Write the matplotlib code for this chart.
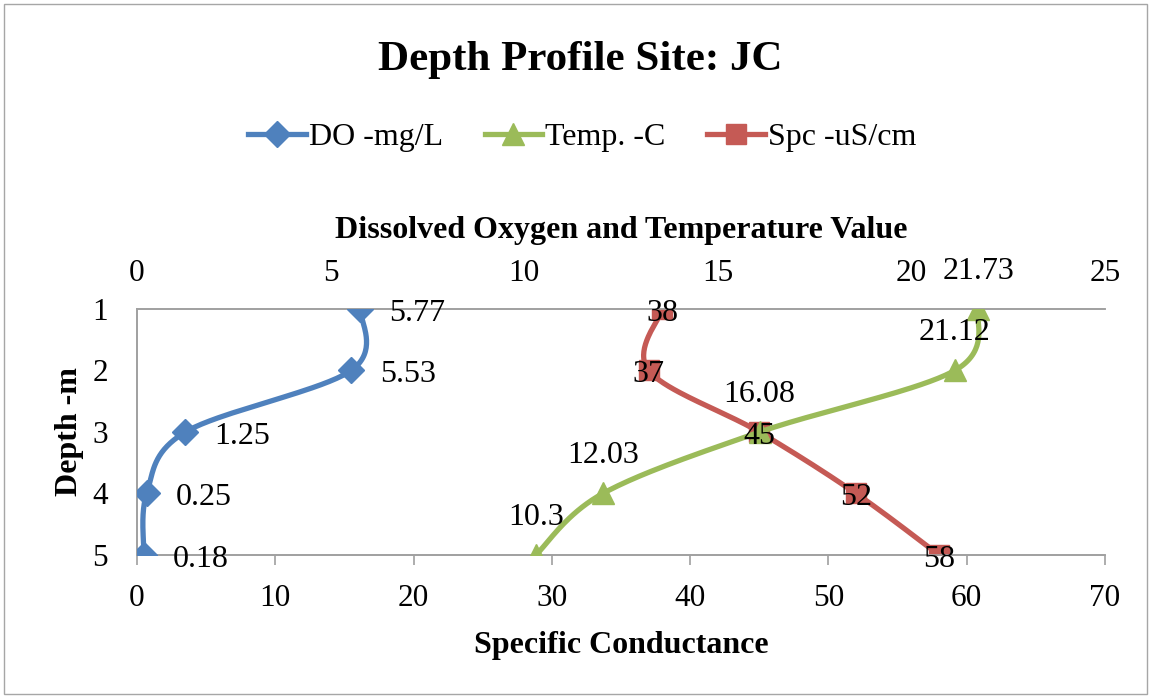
"""Depth profile for site JC: DO, temperature and specific conductance vs depth."""
import matplotlib

matplotlib.use("Agg")
import matplotlib.pyplot as plt
import numpy as np
from matplotlib.patches import Rectangle

plt.rcParams["font.family"] = ["Liberation Serif", "DejaVu Serif"]

depth = [1, 2, 3, 4, 5]
do_mg_l = [5.77, 5.53, 1.25, 0.25, 0.18]
temp_c = [21.73, 21.12, 16.08, 12.03, 10.3]
spc_us_cm = [38, 37, 45, 52, 58]

top_ticks = [0, 5, 10, 15, 20, 25]
bottom_ticks = [0, 10, 20, 30, 40, 50, 60, 70]

BLUE, GREEN, RED = "#4F81BD", "#9BBB59", "#C55A55"
AX_GRAY = "#A0A0A0"
TICK_FS, LABEL_FS, DATA_FS, LEG_FS = 22.5, 23, 23, 23
LW = 3.8


def _smooth(xs, ys, xlim, ylim, w, h, n=40):
    """Excel-style smoothed line: cubic Bezier with Catmull-Rom controls in pixel space."""
    p = np.column_stack([(np.asarray(xs) - xlim[0]) / (xlim[1] - xlim[0]) * w,
                         (np.asarray(ys) - ylim[0]) / (ylim[1] - ylim[0]) * h])
    ext = np.vstack([p[0], p, p[-1]])
    t = np.linspace(0, 1, n)[:, None]
    out = []
    for i in range(1, len(ext) - 2):
        p0, p1, p2, p3 = ext[i - 1], ext[i], ext[i + 1], ext[i + 2]
        c1 = p1 + (p2 - p0) / 6
        c2 = p2 - (p3 - p1) / 6
        seg = ((1 - t) ** 3) * p1 + 3 * ((1 - t) ** 2) * t * c1 + 3 * (1 - t) * t ** 2 * c2 + t ** 3 * p2
        out.append(seg)
    pts = np.vstack(out)
    return (pts[:, 0] / w * (xlim[1] - xlim[0]) + xlim[0],
            pts[:, 1] / h * (ylim[1] - ylim[0]) + ylim[0])


fig = plt.figure(figsize=(11.51, 6.98), dpi=100)
ax = fig.add_axes([137 / 1151, 1 - 555 / 698, 968 / 1151, 246 / 698])
ax_top = ax.twiny()
W, H = 968, 246

ax.set_xlim(0, 70)
ax.set_ylim(5, 1)
ax_top.set_xlim(0, 25)

# specific conductance on the bottom axis
sx, sy = _smooth(spc_us_cm, depth, (0, 70), (5, 1), W, H)
ax.plot(sx, sy, color=RED, lw=LW, solid_capstyle="round", zorder=3)
ax.plot(spc_us_cm, depth, ls="none", marker="s", ms=14, color=RED, zorder=4)

# DO and temperature on the top axis
dx, dy = _smooth(do_mg_l, depth, (0, 25), (5, 1), W, H)
ax_top.plot(dx, dy, color=BLUE, lw=LW, solid_capstyle="round", zorder=3)
ax_top.plot(do_mg_l, depth, ls="none", marker="D", ms=13, color=BLUE, zorder=4)
tx, ty = _smooth(temp_c, depth, (0, 25), (5, 1), W, H)
ax_top.plot(tx, ty, color=GREEN, lw=LW, solid_capstyle="round", zorder=3)
ax_top.plot(temp_c, depth, ls="none", marker="^", ms=16, color=GREEN, zorder=4)

# data labels (all on the top axes so they sit above every line)
for v, d in zip(spc_us_cm, depth):
    ax_top.annotate(str(v), (v, d), xycoords=ax.transData, xytext=(0, -3),
                    textcoords="offset points", ha="center", va="center",
                    fontsize=DATA_FS, zorder=5)
for v, d in zip(do_mg_l, depth):
    ax_top.annotate(f"{v:g}", (v, d), xytext=(21, -3), textcoords="offset points",
                    ha="left", va="center", fontsize=DATA_FS, zorder=5)
for v, d in zip(temp_c, depth):
    ax_top.annotate(f"{v:g}", (v, d), xytext=(0, 27), textcoords="offset points",
                    ha="center", va="center", fontsize=DATA_FS, zorder=5)

# axes styling
ax.set_yticks(depth)
ax.set_xticks(bottom_ticks)
ax_top.set_xticks(top_ticks)
ax.tick_params(axis="y", length=0, pad=21, labelsize=TICK_FS)
ax.tick_params(axis="x", length=7, width=1.2, color=AX_GRAY, direction="out", pad=14,
               labelsize=TICK_FS)
ax_top.tick_params(axis="x", length=0, pad=15, labelsize=TICK_FS)
for a in (ax, ax_top):
    for side, sp in a.spines.items():
        sp.set_color(AX_GRAY)
        sp.set_linewidth(1.2)
        sp.set_visible(side in ("left", "bottom", "top"))

ax.set_xlabel("Specific Conductance", fontsize=LABEL_FS, fontweight="bold", labelpad=13)
ax.set_ylabel("Depth -m", fontsize=LABEL_FS, fontweight="bold", labelpad=6)
ax_top.set_xlabel("Dissolved Oxygen and Temperature Value", fontsize=LABEL_FS,
                  fontweight="bold", labelpad=15)

fig.text(0.504, 1 - 60 / 698, "Depth Profile Site: JC", ha="center", va="center",
         fontsize=31, fontweight="bold")

handles = [
    plt.Line2D([], [], color=BLUE, lw=LW, marker="D", ms=13),
    plt.Line2D([], [], color=GREEN, lw=LW, marker="^", ms=16),
    plt.Line2D([], [], color=RED, lw=LW, marker="s", ms=14),
]
fig.legend(handles, ["DO -mg/L", "Temp. -C", "Spc -uS/cm"], loc="center",
           bbox_to_anchor=(0.506, 1 - 137 / 698), ncol=3, frameon=False,
           fontsize=LEG_FS, handlelength=1.8, handletextpad=0.1, columnspacing=1.3)

fig.patches.append(Rectangle((4 / 1151, 4 / 698), 1143 / 1151, 690 / 698,
                             transform=fig.transFigure, fill=False,
                             edgecolor="#A6A6A6", lw=1))

fig.savefig("out.png", dpi=100)
